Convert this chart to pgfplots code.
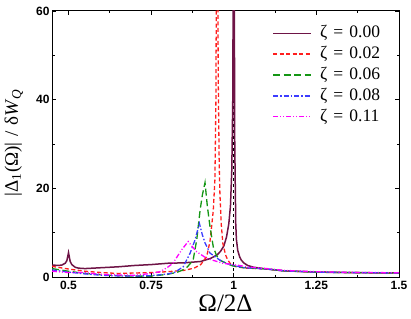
\documentclass[border=0pt]{standalone}
\usepackage{fontspec}
\setmainfont{Liberation Serif}
\newfontfamily\tickfont{Liberation Sans}
\usepackage{pgfplots}
\pgfplotsset{compat=1.18}
\definecolor{cpur}{RGB}{110,20,70}
\definecolor{cred}{RGB}{255,30,30}
\definecolor{cgrn}{RGB}{20,150,20}
\definecolor{cblu}{RGB}{60,60,255}
\definecolor{cmag}{RGB}{255,0,255}
\newcommand{\zl}[1]{ζ\hspace{0.35em}=\hspace{0.35em}#1}
\begin{document}
\begin{tikzpicture}[x=1pt,y=1pt]
\begin{axis}[
  scale only axis, width=347pt, height=266pt,
  xmin=0.45, xmax=1.5, ymin=0, ymax=60,
  xtick={0.5,0.75,1,1.25,1.5},
  xticklabels={0.5,0.75,1,1.25,1.5},
  ytick={0,20,40,60}, yticklabels={0,20,40,60},
  minor xtick={0.625,0.875,1.125,1.375},
  minor ytick={10,30,50},
  tick align=inside,
  major tick length=4pt, minor tick length=2.5pt,
  tick style={black, line width=0.8pt},
  axis line style={line width=1pt},
  ticklabel style={font=\tickfont\bfseries\fontsize{12}{14}\selectfont},
  xticklabel style={yshift=-1pt},
  yticklabel style={xshift=1pt},
  every axis x label/.style={at={(axis description cs:0.5,-0.10)}, anchor=center, font=\fontsize{25}{27}\selectfont},
  every axis y label/.style={at={(axis description cs:-0.11,0.505)}, anchor=center, rotate=90, font=\fontsize{19}{21}\selectfont},
  xlabel={Ω/2Δ},
  ylabel={|Δ\textsubscript{1}(Ω)|\hspace{0.3em}/\hspace{0.3em}δ\textit{W}\textsubscript{\textit{Q}}},
  clip=true,
]
\addplot[black, dashed, line width=0.8pt] coordinates {(1,0) (1,60)};
\addplot[color=cpur, line width=1.5pt] coordinates {
(0.45,2.7)(0.47,2.6)(0.48,2.7)(0.49,3.1)(0.495,3.7)(0.5,5.5)(0.505,3.5)(0.51,2.8)(0.52,2.2)(0.53,2.0)
(0.55,1.9)(0.6,2.1)(0.65,2.3)(0.7,2.6)(0.75,2.8)(0.8,3.1)(0.85,3.2)(0.9,3.5)(0.93,4.2)(0.95,5.0)
(0.96,5.8)(0.97,7.0)(0.978,9)(0.985,12)(0.99,16)(0.994,24)(0.997,40)(0.999,80)(1.0,120)
(1.001,80)(1.003,30)(1.006,12)(1.008,8.5)(1.012,6)(1.018,4.5)(1.023,3.8)(1.03,3.2)(1.042,2.6)
(1.06,2.2)(1.1,1.8)(1.15,1.4)(1.25,1.1)(1.35,1.0)(1.5,0.9)};
\addplot[color=cred, line width=1.3pt, dash pattern=on 4pt off 2.5pt] coordinates {
(0.45,2.4)(0.5,1.8)(0.55,1.3)(0.6,1.0)(0.65,0.8)(0.7,0.9)(0.75,1.0)(0.8,1.2)(0.85,1.5)(0.88,2.0)
(0.9,2.8)(0.918,4.6)(0.928,8)(0.933,11.4)(0.938,15)(0.943,22)(0.946,40)(0.948,80)(0.949,120)
(0.951,80)(0.953,45)(0.956,25)(0.958,19)(0.962,12)(0.967,7.6)(0.975,5)(0.982,3.8)(0.99,3)
(1.008,2.3)(1.038,2.0)(1.1,1.8)(1.15,1.4)(1.25,1.1)(1.35,1.0)(1.5,0.9)};
\addplot[color=cgrn, line width=1.3pt, dash pattern=on 7pt off 3.5pt] coordinates {
(0.45,1.9)(0.5,1.3)(0.55,0.8)(0.6,0.5)(0.65,0.3)(0.7,0.2)(0.75,0.2)(0.8,0.6)(0.83,1.1)(0.846,1.6)
(0.86,2.3)(0.877,3.8)(0.888,8.4)(0.898,15)(0.905,18.5)(0.913,21.3)(0.92,16)(0.928,11.4)(0.938,6.8)
(0.948,4.8)(0.958,3.8)(0.98,3.0)(0.997,2.5)(1.03,2.1)(1.1,1.8)(1.15,1.4)(1.25,1.1)(1.35,1.0)(1.5,0.9)};
\addplot[color=cblu, line width=1.3pt, dash pattern=on 5pt off 2pt on 1.5pt off 2pt] coordinates {
(0.45,1.6)(0.5,1.1)(0.55,0.7)(0.6,0.4)(0.65,0.25)(0.7,0.2)(0.75,0.3)(0.8,0.7)(0.82,1.0)(0.847,2.3)
(0.868,5.4)(0.883,8.4)(0.896,12.1)(0.905,9.5)(0.913,7.7)(0.928,5.4)(0.958,3.8)(0.98,3.0)(1.0,2.6)
(1.03,2.1)(1.1,1.8)(1.15,1.4)(1.25,1.1)(1.35,1.0)(1.5,0.9)};
\addplot[color=cmag, line width=1.3pt, dash pattern=on 5pt off 2pt on 1pt off 2pt on 1pt off 2pt] coordinates {
(0.45,1.3)(0.5,1.0)(0.545,1.0)(0.6,0.6)(0.63,0.5)(0.7,0.4)(0.75,0.8)(0.777,1.2)(0.8,2.2)(0.816,3.1)
(0.822,3.8)(0.842,6.1)(0.862,8.0)(0.875,6.8)(0.888,5.7)(0.918,4.2)(0.967,3.1)(1.008,2.7)(1.05,2.2)
(1.1,1.9)(1.15,1.5)(1.25,1.2)(1.35,1.05)(1.5,0.95)};
% legend
\draw[draw=cpur, line width=1.5pt] (axis description cs:0.637,0.9154) -- (axis description cs:0.746,0.9154);
\draw[draw=cred, line width=1.3pt, dash pattern=on 4pt off 2.5pt] (axis description cs:0.637,0.8383) -- (axis description cs:0.746,0.8383);
\draw[draw=cgrn, line width=1.3pt, dash pattern=on 7pt off 3.5pt] (axis description cs:0.637,0.7594) -- (axis description cs:0.746,0.7594);
\draw[draw=cblu, line width=1.3pt, dash pattern=on 5pt off 2pt on 1.5pt off 2pt] (axis description cs:0.637,0.6805) -- (axis description cs:0.746,0.6805);
\draw[draw=cmag, line width=1.3pt, dash pattern=on 5pt off 2pt on 1pt off 2pt on 1pt off 2pt] (axis description cs:0.637,0.6026) -- (axis description cs:0.746,0.6026);
\begin{scope}[every node/.style={anchor=base west, inner sep=0pt, yshift=-4.5pt, font=\fontsize{17.5}{19}\selectfont}]
\node at (axis description cs:0.772,0.9154) {\zl{0.00}};
\node at (axis description cs:0.772,0.8383) {\zl{0.02}};
\node at (axis description cs:0.772,0.7594) {\zl{0.06}};
\node at (axis description cs:0.772,0.6805) {\zl{0.08}};
\node at (axis description cs:0.772,0.6026) {\zl{0.11}};
\end{scope}
\end{axis}
\pgfresetboundingbox
\path[use as bounding box] (-52pt,-41pt) rectangle (359pt,277pt);
\end{tikzpicture}
\end{document}
